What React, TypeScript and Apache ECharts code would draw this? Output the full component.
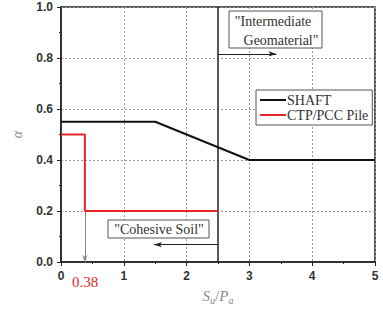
import React, { useEffect, useRef } from "react";
import * as echarts from "echarts";

const xTicks = [0, 1, 2, 3, 4, 5];
const shaftX = [0, 1.5, 3, 5];
const shaftY = [0.55, 0.55, 0.4, 0.4];
const pileX = [0, 0.38, 0.38, 2.5];
const pileY = [0.5, 0.5, 0.2, 0.2];
const boundaryX = 2.5;
const pileBreakX = 0.38;
const pileLowY = 0.2;
const igArrow = { from: 2.5, to: 3.43, y: 0.816 };
const csArrow = { from: 2.5, to: 1.48, y: 0.068 };
const seriesNames = ["SHAFT", "CTP/PCC Pile"];
const annotationTexts = ['"Intermediate', 'Geomaterial"', '"Cohesive Soil"', "0.38"];

const serif = "Liberation Serif";
const sans = "Liberation Sans";

export default function App() {
  const ref = useRef<HTMLDivElement>(null);
  useEffect(() => {
    if (!ref.current) return;
    const chart = echarts.init(ref.current, null, { renderer: "svg" });
    const zip = (xs: number[], ys: number[]) => xs.map((x, i) => [x, ys[i]]);
    const txt = (text: string, x: number, y: number, size: number, fill: string) => ({
      type: "text",
      x,
      y,
      z: 101,
      style: { text, fontFamily: serif, fontSize: size, fill, align: "center", verticalAlign: "middle" },
    });
    chart.setOption({
      animation: false,
      backgroundColor: "#fff",
      grid: {
        left: 61,
        top: 7,
        right: 8,
        bottom: 49,
        show: true,
        borderColor: "#222",
        borderWidth: 1.5,
      },
      xAxis: {
        type: "value",
        min: xTicks[0],
        max: xTicks[xTicks.length - 1],
        interval: 1,
        axisLine: { show: true, onZero: false, lineStyle: { color: "#222", width: 1.5 } },
        axisTick: { show: true, length: 4, lineStyle: { color: "#222" } },
        minorTick: { show: true, splitNumber: 2, length: 2, lineStyle: { color: "#222" } },
        splitLine: { show: true, lineStyle: { color: "#999", type: [2, 2], width: 1 } },
        axisLabel: {
          margin: 8,
          fontFamily: sans,
          fontWeight: "bold",
          fontSize: 12,
          color: "#333",
        },
        name: "{s|S}{sub|u}{sl|/}{s|P}{sub|a}",
        nameLocation: "middle",
        nameGap: 25,
        nameTextStyle: {
          rich: {
            s: { fontFamily: serif, fontStyle: "italic", fontSize: 15, color: "#888" },
            sub: { fontFamily: serif, fontStyle: "italic", fontSize: 10, color: "#888", padding: [8, 0, 0, 0] },
            sl: { fontFamily: serif, fontSize: 15, color: "#888" },
          },
        },
      },
      yAxis: {
        type: "value",
        min: 0,
        max: 1,
        interval: 0.2,
        axisLine: { show: true, lineStyle: { color: "#222", width: 1.5 } },
        axisTick: { show: true, length: 4, lineStyle: { color: "#222" } },
        minorTick: { show: true, splitNumber: 2, length: 2, lineStyle: { color: "#222" } },
        splitLine: { show: true, lineStyle: { color: "#999", type: [2, 2], width: 1 } },
        axisLabel: {
          margin: 8,
          fontFamily: sans,
          fontWeight: "bold",
          fontSize: 12,
          color: "#333",
          formatter: (v: number) => v.toFixed(1),
        },
        name: "α",
        nameLocation: "middle",
        nameGap: 37,
        nameRotate: 90,
        nameTextStyle: { fontFamily: serif, fontStyle: "italic", fontSize: 14, color: "#888" },
      },
      legend: {
        data: seriesNames,
        orient: "vertical",
        left: 256,
        top: 90,
        itemWidth: 26,
        itemHeight: 2,
        itemGap: 1,
        icon: "rect",
        padding: [3, 4, 3, 4],
        borderColor: "#555",
        borderWidth: 1,
        backgroundColor: "#fff",
        z: 100,
        textStyle: { fontFamily: serif, fontSize: 14, color: "#333", padding: [0, 0, 0, -4], lineHeight: 14 },
      },
      series: [
        {
          name: seriesNames[0],
          type: "line",
          data: zip(shaftX, shaftY),
          showSymbol: false,
          symbol: "none",
          lineStyle: { color: "#111", width: 2 },
          itemStyle: { color: "#111" },
          z: 5,
        },
        {
          name: seriesNames[1],
          type: "line",
          data: zip(pileX, pileY),
          showSymbol: false,
          symbol: "none",
          lineStyle: { color: "#e8262a", width: 2 },
          itemStyle: { color: "#e8262a" },
          z: 6,
        },
        {
          name: "annotations",
          type: "line",
          data: [],
          markLine: {
            silent: true,
            animation: false,
            label: { show: false },
            data: [
              [
                { coord: [boundaryX, 0], symbol: "none", lineStyle: { color: "#222", width: 1.5, type: "solid" } },
                { coord: [boundaryX, 1], symbol: "none" },
              ],
              [
                { coord: [pileBreakX, pileLowY], symbol: "none", lineStyle: { color: "#888", width: 1, type: "solid" } },
                { coord: [pileBreakX, 0], symbol: "arrow", symbolSize: [4, 7] },
              ],
              [
                { coord: [igArrow.from, igArrow.y], symbol: "none", lineStyle: { color: "#222", width: 1, type: "solid" } },
                { coord: [igArrow.to, igArrow.y], symbol: "arrow", symbolSize: [4, 8] },
              ],
              [
                { coord: [csArrow.from, csArrow.y], symbol: "none", lineStyle: { color: "#222", width: 1, type: "solid" } },
                { coord: [csArrow.to, csArrow.y], symbol: "arrow", symbolSize: [4, 8] },
              ],
            ],
          },
        },
      ],
      graphic: [
        {
          type: "rect",
          z: 100,
          shape: { x: 229, y: 11, width: 93, height: 37 },
          style: { fill: "#fff", stroke: "#555", lineWidth: 1 },
        },
        txt(annotationTexts[0], 273, 21, 14, "#333"),
        txt(annotationTexts[1], 281, 40, 14, "#333"),
        {
          type: "rect",
          z: 100,
          shape: { x: 108, y: 220, width: 101, height: 18 },
          style: { fill: "#fff", stroke: "#555", lineWidth: 1 },
        },
        txt(annotationTexts[2], 159, 229.5, 14, "#333"),
        txt(annotationTexts[3], 85, 282, 15, "#e8262a"),
      ],
    });
    return () => chart.dispose();
  }, []);
  return <div ref={ref} style={{ width: 383, height: 311, position: "absolute", left: 0, top: 0 }} />;
}
